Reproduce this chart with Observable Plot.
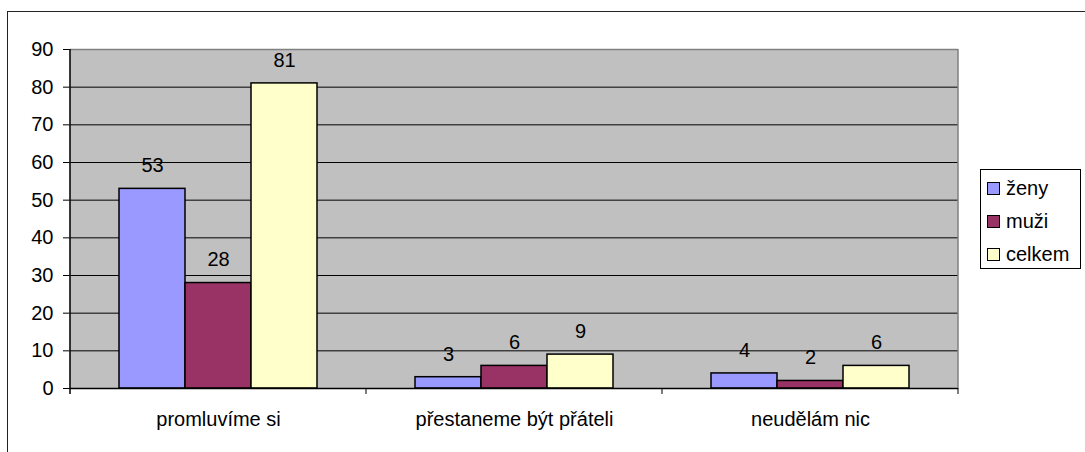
<!DOCTYPE html>
<html>
<head>
<meta charset="utf-8">
<script src="https://cdn.jsdelivr.net/npm/d3@7"></script>
<script src="https://cdn.jsdelivr.net/npm/@observablehq/plot@0.6"></script>
<style>
  html, body { margin: 0; padding: 0; background: #fff; overflow: hidden; }
  body { width: 1085px; height: 452px; position: relative; font-family: "Liberation Sans", Arial, sans-serif; }
  #border { position: absolute; left: 7px; top: 11px; width: 2000px; height: 2000px; border: 1.5px solid #222; box-sizing: border-box; pointer-events: none; }
  #chart { position: absolute; left: 0; top: 0; }
  #legend { position: absolute; left: 980px; top: 169px; width: 101px; height: 100px; border: 1px solid #000; box-sizing: border-box; background: #fff; font-size: 20px; }
  .item { position: absolute; left: 6px; display: flex; align-items: center; line-height: 22px; }
  .sw { width: 13px; height: 13px; border: 1.5px solid #000; margin-right: 6px; box-sizing: border-box; }
</style>
</head>
<body>
<div id="chart"></div>
<div id="border"></div>
<div id="legend"></div>
<script>
const categories = ["promluvíme si", "přestaneme být přáteli", "neudělám nic"];
const series = ["ženy", "muži", "celkem"];
const zeny = [53, 3, 4];
const muzi = [28, 6, 2];
const celkem = [81, 9, 6];
const yTicks = [0, 10, 20, 30, 40, 50, 60, 70, 80, 90];
const colors = ["#9999FF", "#993366", "#FFFFCC"];

const values = [zeny, muzi, celkem];
const data = [];
categories.forEach((c, ci) => series.forEach((s, si) => data.push({category: c, series: s, value: values[si][ci]})));

const chart = Plot.plot({
  width: 1085,
  height: 452,
  marginLeft: 70,
  marginRight: 127,
  marginTop: 49,
  marginBottom: 64,
  style: {fontFamily: "Liberation Sans, Arial, sans-serif", fontSize: "20px", color: "#000", background: "transparent"},
  fx: {domain: categories, padding: 0, label: null, axis: "bottom", tickSize: 0, tickPadding: 23},
  x: {domain: series, paddingInner: 0, paddingOuter: 0.742, axis: null},
  y: {domain: [0, 90], ticks: yTicks, tickSize: 7, tickPadding: 10, label: null},
  color: {domain: series, range: colors},
  marks: [
    Plot.frame({fill: "#C0C0C0", stroke: null, insetLeft: -1, insetRight: -1}),
    Plot.ruleY(yTicks.slice(1, -1), {stroke: "#000", strokeWidth: 1}),
    Plot.ruleY([90], {stroke: "#808080", strokeWidth: 1.5}),
    Plot.barY(data, {fx: "category", x: "series", y: "value", fill: "series", stroke: "#000", strokeWidth: 1.5}),
    Plot.ruleY([0], {stroke: "#000", strokeWidth: 1.5}),
    Plot.text(data, {fx: "category", x: "series", y: "value", text: d => String(d.value), dy: -23, fill: "#000", fontSize: 20})
  ]
});
document.getElementById("chart").appendChild(chart);

// decorations derived from the library's scales
const fxS = chart.scale("fx"), yS = chart.scale("y");
const bw = fxS.bandwidth;
const x0 = fxS.apply(categories[0]);
const xEnd = fxS.apply(categories[categories.length - 1]) + bw;
const y0 = yS.apply(0), yTop = yS.apply(90);
const svg = d3.select(chart);
const g = svg.append("g");
g.append("rect").attr("x", xEnd).attr("y", yTop - 2).attr("width", 3).attr("height", y0 - yTop + 2).attr("fill", "#fff");
g.append("line").attr("x1", xEnd).attr("x2", xEnd).attr("y1", yTop).attr("y2", y0).attr("stroke", "#808080").attr("stroke-width", 1.5);
g.append("line").attr("x1", x0).attr("x2", x0).attr("y1", yTop).attr("y2", y0 + 6).attr("stroke", "#000").attr("stroke-width", 1.5);
categories.slice(1).map(c => fxS.apply(c)).concat([xEnd]).forEach(x => {
  g.append("line").attr("x1", x).attr("x2", x).attr("y1", y0).attr("y2", y0 + 6).attr("stroke", "#000").attr("stroke-width", 1);
});

// legend
const legend = document.getElementById("legend");
series.forEach((s, i) => {
  const it = document.createElement("div");
  it.className = "item";
  it.style.top = (7 + i * 33) + "px";
  it.innerHTML = `<span class="sw" style="background:${colors[i]}"></span><span>${s}</span>`;
  legend.appendChild(it);
});
</script>
</body>
</html>
